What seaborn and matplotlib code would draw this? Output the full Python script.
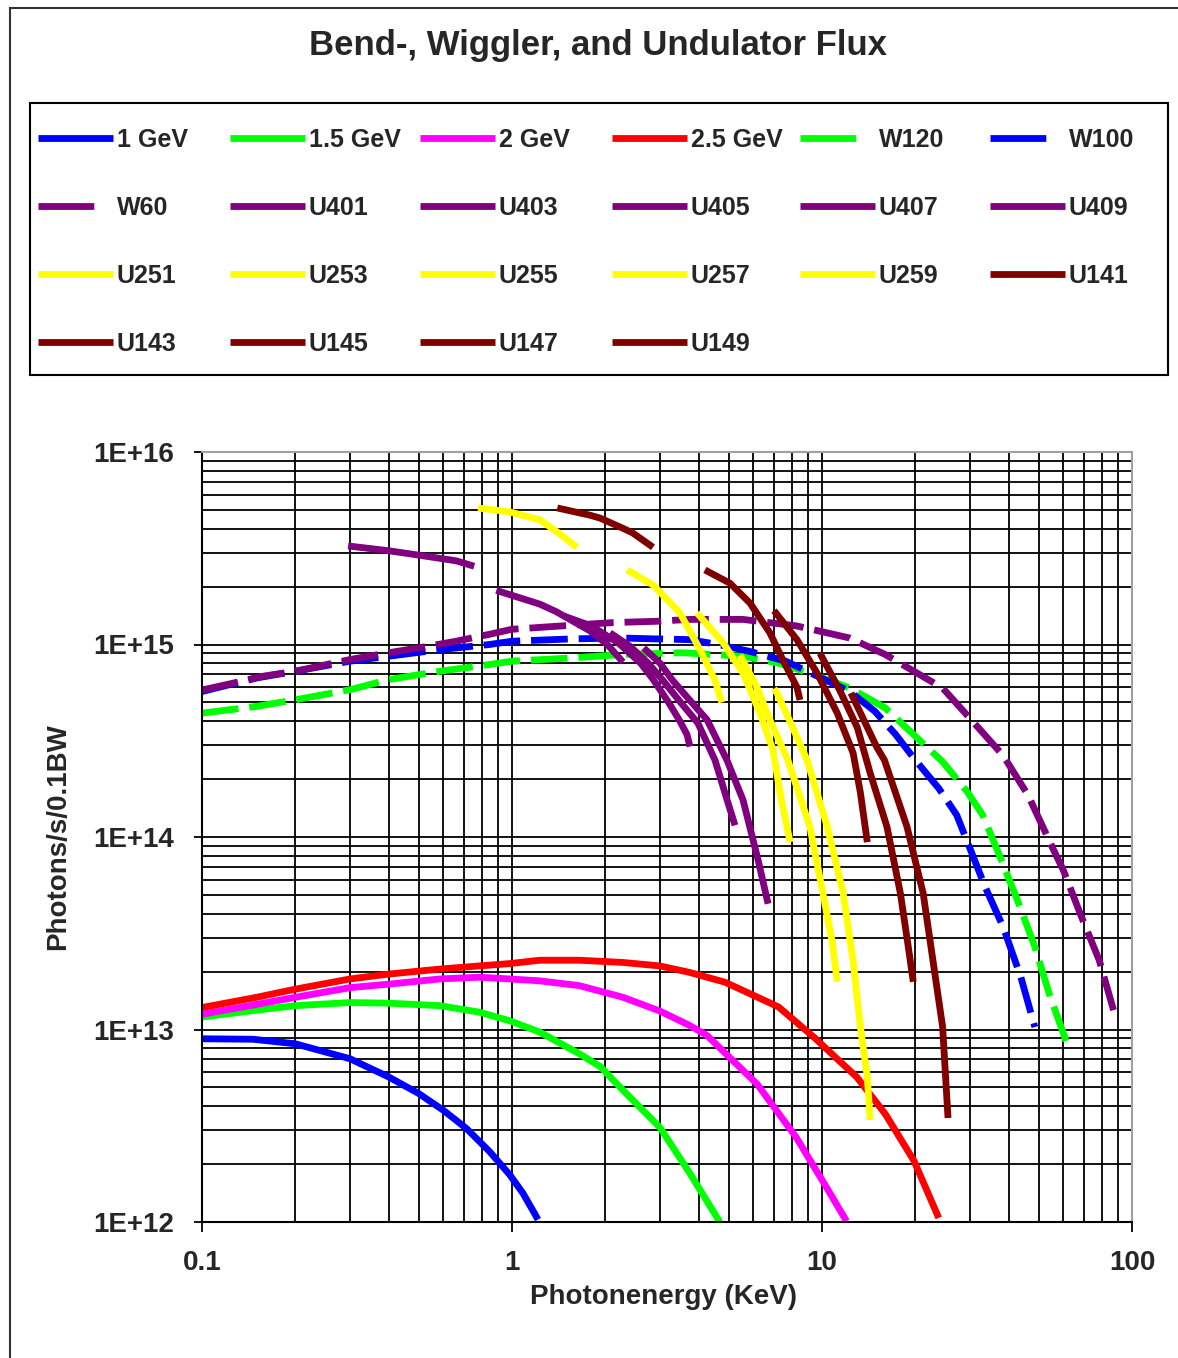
import numpy as np
import matplotlib
matplotlib.use("Agg")
import matplotlib.pyplot as plt
import seaborn as sns
from matplotlib.lines import Line2D
from matplotlib.patches import Rectangle
from matplotlib.ticker import FixedLocator, FuncFormatter, NullFormatter

# ---- data (photon energy in keV, flux in photons/s/0.1BW) ----
bm_1gev_e = [0.1, 0.146, 0.2, 0.3, 0.4, 0.5, 0.6, 0.713, 0.847, 0.983, 1.085, 1.213]
bm_1gev_f = [8.95e12, 8.9e12, 8.43e12, 7.05e12, 5.67e12, 4.65e12, 3.81e12, 3.06e12, 2.32e12, 1.76e12, 1.41e12, 1.03e12]

bm_15gev_e = [0.1, 0.15, 0.2, 0.3, 0.4, 0.584, 0.786, 0.983, 1.228, 1.65, 1.93, 2.28, 3.0, 3.74, 4.68]
bm_15gev_f = [1.16e13, 1.26e13, 1.33e13, 1.38e13, 1.37e13, 1.33e13, 1.23e13, 1.11e13, 9.7e12, 7.48e12, 6.4e12, 4.84e12, 3.1e12, 1.8e12, 1.0e12]

bm_2gev_e = [0.1, 0.15, 0.2, 0.3, 0.4, 0.584, 0.786, 0.983, 1.228, 1.65, 2.28, 2.99, 3.74, 4.26, 6.18, 8.26, 10.2, 12.0]
bm_2gev_f = [1.2e13, 1.35e13, 1.47e13, 1.65e13, 1.72e13, 1.83e13, 1.87e13, 1.83e13, 1.79e13, 1.69e13, 1.47e13, 1.25e13, 1.05e13, 9.3e12, 5.2e12, 2.75e12, 1.57e12, 1.01e12]

bm_25gev_e = [0.1, 0.15, 0.2, 0.3, 0.4, 0.584, 0.786, 0.983, 1.228, 1.65, 2.28, 2.99, 3.74, 4.87, 7.24, 9.43, 12.96, 16.0, 19.8, 23.8]
bm_25gev_f = [1.3e13, 1.47e13, 1.62e13, 1.83e13, 1.94e13, 2.06e13, 2.14e13, 2.2e13, 2.29e13, 2.29e13, 2.23e13, 2.14e13, 1.98e13, 1.76e13, 1.31e13, 9.1e12, 5.65e12, 3.64e12, 2.08e12, 1.05e12]

w120_e = [0.1, 0.15, 0.2, 0.3, 0.4, 0.584, 0.846, 1.0, 1.57, 2.28, 3.54, 5.56, 7.24, 9.43, 12.3, 16.0, 19.8, 24.5, 29.4, 33.0, 37.4, 42.7, 48.6, 54.1, 61.8]
w120_f = [4.4e14, 4.77e14, 5.16e14, 5.82e14, 6.57e14, 7.26e14, 7.87e14, 8.19e14, 8.52e14, 8.87e14, 9.06e14, 8.69e14, 8.0e14, 6.97e14, 5.94e14, 4.68e14, 3.39e14, 2.46e14, 1.72e14, 1.3e14, 8.0e13, 4.7e13, 2.69e13, 1.53e13, 8.4e12]

w100_e = [0.1, 0.15, 0.2, 0.3, 0.4, 0.584, 0.846, 1.0, 1.57, 2.28, 2.87, 3.74, 4.62, 5.86, 7.64, 9.95, 12.3, 14.8, 17.3, 19.8, 23.8, 27.2, 30.2, 33.6, 38.4, 43.8, 48.6]
w100_f = [5.7e14, 6.7e14, 7.26e14, 8.19e14, 8.69e14, 9.4e14, 1.0e15, 1.04e15, 1.07e15, 1.08e15, 1.07e15, 1.06e15, 1.0e15, 9.2e14, 8.19e14, 6.7e14, 5.7e14, 4.5e14, 3.4e14, 2.56e14, 1.79e14, 1.3e14, 8.5e13, 5.5e13, 3.41e13, 1.87e13, 1.03e13]

w60_e = [0.1, 0.126, 0.157, 0.2, 0.3, 0.4, 0.516, 0.661, 0.846, 1.0, 1.57, 2.12, 2.92, 3.74, 5.56, 8.26, 12.3, 16.0, 24.5, 31.0, 38.4, 46.2, 55.6, 60.1, 68.7, 78.4, 87.2]
w60_f = [5.8e14, 6.3e14, 6.84e14, 7.26e14, 8.35e14, 9.06e14, 9.69e14, 1.04e15, 1.13e15, 1.2e15, 1.26e15, 1.3e15, 1.32e15, 1.35e15, 1.35e15, 1.25e15, 1.08e15, 8.87e14, 5.94e14, 3.9e14, 2.65e14, 1.65e14, 8.7e13, 6.7e13, 3.85e13, 2.29e13, 1.26e13]

u401_e = [0.296, 0.4, 0.516, 0.661, 0.755]
u401_f = [3.25e15, 3.07e15, 2.89e15, 2.72e15, 2.55e15]
u403_e = [0.89, 1.0, 1.23, 1.39, 1.78, 2.03, 2.28]
u403_f = [1.91e15, 1.8e15, 1.62e15, 1.48e15, 1.18e15, 1.0e15, 8.1e14]
u405_e = [1.48, 1.8, 2.2, 2.6, 2.85, 3.2, 3.48, 3.67, 3.75]
u405_f = [1.4e15, 1.25e15, 1.02e15, 8.0e14, 6.6e14, 5.0e14, 4.0e14, 3.4e14, 2.95e14]
u407_e = [2.07, 2.4, 2.75, 3.07, 3.5, 3.98, 4.52, 4.94, 5.24]
u407_f = [1.15e15, 9.8e14, 8.0e14, 6.5e14, 5.0e14, 3.9e14, 2.5e14, 1.56e14, 1.15e14]
u409_e = [2.66, 3.0, 3.3, 3.8, 4.26, 4.94, 5.56, 6.22, 6.7]
u409_f = [9.6e14, 8.0e14, 6.5e14, 5.0e14, 4.06e14, 2.5e14, 1.56e14, 7.6e13, 4.5e13]

u251_e = [0.777, 0.985, 1.23, 1.40, 1.62]
u251_f = [5.12e15, 4.88e15, 4.44e15, 3.84e15, 3.2e15]
u253_e = [2.35, 2.85, 3.48, 4.04, 4.52, 4.75]
u253_f = [2.44e15, 2.04e15, 1.46e15, 9.4e14, 6.5e14, 5.0e14]
u255_e = [3.95, 4.8, 5.56, 6.31, 6.95, 7.32, 7.89]
u255_f = [1.46e15, 1.02e15, 7.1e14, 4.4e14, 2.83e14, 1.7e14, 9.4e13]
u257_e = [5.44, 6.17, 6.79, 7.76, 9.14, 10.07, 10.8, 11.2]
u257_f = [8.8e14, 6.0e14, 4.06e14, 2.51e14, 1.13e14, 5.1e13, 2.82e13, 1.77e13]
u259_e = [7.0, 7.16, 8.0, 8.95, 10.4, 11.7, 12.6, 13.3, 14.0, 14.3]
u259_f = [5.9e14, 5.6e14, 3.78e14, 2.51e14, 1.13e14, 5.1e13, 2.28e13, 1.03e13, 5.66e12, 3.39e12]

u141_e = [1.40, 1.78, 1.92, 2.23, 2.45, 2.85]
u141_f = [5.12e15, 4.7e15, 4.54e15, 4.08e15, 3.8e15, 3.2e15]
u143_e = [4.19, 5.05, 5.86, 6.79, 7.48, 8.3, 8.49]
u143_f = [2.44e15, 2.08e15, 1.64e15, 1.15e15, 8.3e14, 6.0e14, 5.15e14]
u145_e = [7.0, 8.3, 9.64, 11.2, 12.6, 13.3, 14.0]
u145_f = [1.5e15, 1.06e15, 7.1e14, 4.4e14, 2.73e14, 1.7e14, 9.4e13]
u147_e = [9.85, 11.4, 13.0, 14.3, 16.2, 17.9, 18.9, 19.7]
u147_f = [9.0e14, 5.8e14, 3.7e14, 2.15e14, 1.13e14, 5.1e13, 2.82e13, 1.77e13]
u149_e = [12.4, 15.0, 15.9, 18.8, 21.2, 22.8, 24.5, 25.5]
u149_f = [5.6e14, 2.94e14, 2.51e14, 1.13e14, 5.1e13, 2.28e13, 1.03e13, 3.47e12]

# label, energies, flux, colour, dashed
series = [
    ("1 GeV", bm_1gev_e, bm_1gev_f, "#0000FF", False),
    ("1.5 GeV", bm_15gev_e, bm_15gev_f, "#00FF00", False),
    ("2 GeV", bm_2gev_e, bm_2gev_f, "#FF00FF", False),
    ("2.5 GeV", bm_25gev_e, bm_25gev_f, "#FF0000", False),
    ("W120", w120_e, w120_f, "#00FF00", True),
    ("W100", w100_e, w100_f, "#0000FF", True),
    ("W60", w60_e, w60_f, "#800080", True),
    ("U401", u401_e, u401_f, "#800080", False),
    ("U403", u403_e, u403_f, "#800080", False),
    ("U405", u405_e, u405_f, "#800080", False),
    ("U407", u407_e, u407_f, "#800080", False),
    ("U409", u409_e, u409_f, "#800080", False),
    ("U251", u251_e, u251_f, "#FFFF00", False),
    ("U253", u253_e, u253_f, "#FFFF00", False),
    ("U255", u255_e, u255_f, "#FFFF00", False),
    ("U257", u257_e, u257_f, "#FFFF00", False),
    ("U259", u259_e, u259_f, "#FFFF00", False),
    ("U141", u141_e, u141_f, "#800000", False),
    ("U143", u143_e, u143_f, "#800000", False),
    ("U145", u145_e, u145_f, "#800000", False),
    ("U147", u147_e, u147_f, "#800000", False),
    ("U149", u149_e, u149_f, "#800000", False),
]

W, H = 1178, 1358
LW = 4.9
DASH = (0, (5.4, 1.6))

sns.set_theme(style="white")
plt.rcParams["font.family"] = ["Liberation Sans", "DejaVu Sans"]
plt.rcParams["font.weight"] = "bold"

fig = plt.figure(figsize=(W / 100, H / 100), dpi=100)
fig.patch.set_facecolor("white")
ax = fig.add_axes([202 / W, 1 - 1222 / H, 930 / W, 770 / H])

for name, e, f, col, dashed in series:
    sns.lineplot(x=e, y=f, ax=ax, color=col, linewidth=LW, sort=False, estimator=None,
                 linestyle=DASH if dashed else "-", solid_joinstyle="round",
                 solid_capstyle="butt", legend=False)

ax.set_xscale("log")
ax.set_yscale("log")
ax.set_xlim(0.1, 100)
ax.set_ylim(1e12, 1e16)

ax.xaxis.set_major_locator(FixedLocator([0.1, 1, 10, 100]))
ax.xaxis.set_minor_locator(FixedLocator([m * 10.0 ** d for d in range(-1, 2) for m in range(2, 10)]))
ax.yaxis.set_major_locator(FixedLocator([1e12, 1e13, 1e14, 1e15, 1e16]))
ax.yaxis.set_minor_locator(FixedLocator([m * 10.0 ** d for d in range(12, 16) for m in range(2, 10)]))
ax.xaxis.set_major_formatter(FuncFormatter(lambda v, _: {0.1: "0.1", 1: "1", 10: "10", 100: "100"}.get(round(v, 1), "")))
ax.yaxis.set_major_formatter(FuncFormatter(lambda v, _: "1E+%d" % int(round(np.log10(v)))))
ax.xaxis.set_minor_formatter(NullFormatter())
ax.yaxis.set_minor_formatter(NullFormatter())

ax.grid(True, which="both", color="black", linewidth=1.3)
ax.tick_params(axis="both", which="major", direction="out", length=6, width=1.3, color="black",
               labelsize=20, bottom=True, left=True)
ax.tick_params(axis="x", which="major", pad=13, length=7)
ax.tick_params(axis="y", which="major", pad=14)
ax.tick_params(axis="both", which="minor", length=0)
for lab in ax.get_xticklabels() + ax.get_yticklabels():
    lab.set_fontweight("bold")

for s in ("left", "bottom"):
    ax.spines[s].set_color("black")
    ax.spines[s].set_linewidth(1.5)
for s in ("top", "right"):
    ax.spines[s].set_color("#a0a0a0")
    ax.spines[s].set_linewidth(1.5)

ax.set_xlabel("Photonenergy (KeV)", fontsize=20, fontweight="bold", va="center")
ax.xaxis.set_label_coords((663 - 202) / 930, -(1297 - 1222) / 770)
ax.set_ylabel("Photons/s/0.1BW", fontsize=20, fontweight="bold", va="center")
ax.yaxis.set_label_coords((58 - 202) / 930, 0.5)

fig.text(598 / W, 1 - 46 / H, "Bend-, Wiggler, and Undulator Flux", ha="center", va="center",
         fontsize=25, fontweight="bold")

# outer chart frame and legend frame
fig.add_artist(Rectangle((10 / W, -0.05), 1.2, 1 - 8 / H + 0.05, transform=fig.transFigure,
                         fill=False, edgecolor="#333333", linewidth=1.5))
fig.add_artist(Rectangle((30 / W, 1 - 375 / H), 1138 / W, 272 / H, transform=fig.transFigure,
                         fill=False, edgecolor="black", linewidth=1.5))

# legend laid out row by row in six fixed columns
handles = []
for name, e, f, col, dashed in series:
    handles.append(Line2D([], [], color=col, linewidth=LW,
                          linestyle=(0, (8.2, 9)) if dashed else "-", solid_capstyle="butt"))
labels = [s[0] for s in series]
col_x = [38, 230, 420, 612, 800, 990]
for j, x in enumerate(col_x):
    idx = list(range(j, len(series), 6))
    fig.legend([handles[i] for i in idx], [labels[i] for i in idx], loc="upper left",
               bbox_to_anchor=(x / W, 1 - 128 / H), bbox_transform=fig.transFigure,
               frameon=False, borderpad=0, borderaxespad=0, handlelength=3.0,
               handletextpad=0.16, labelspacing=1.76,
               prop={"size": 18, "weight": "bold"})

fig.savefig("out.png", dpi=100, facecolor="white")
